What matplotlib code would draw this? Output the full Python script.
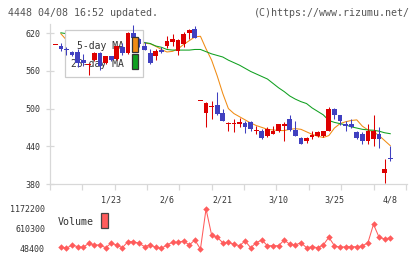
import matplotlib
matplotlib.use("Agg")
from matplotlib import pyplot as plt
from matplotlib.patches import Rectangle
import numpy as np

# daily prices, 1/8 .. 4/8 (61 trading days)
opens = [602, 600, 594.5, 590, 590, 578, 570, 577, 588, 572,
         583, 579, 598, 588, 620, 610, 599, 588, 584, 593,
         599, 606, 592, 603, 620, 627, 513, 493, 504, 505,
         493, 476, 475.5, 475, 477, 478, 464.5, 465, 457, 460,
         464, 472, 483, 466, 453, 448, 455, 457, 457, 465,
         499, 490, 476, 476, 462, 460, 448, 452, 459, 397, 421]
highs = [602, 604, 598, 591, 594, 587, 572, 590, 590, 584,
         584, 599, 604, 622, 633, 613, 606, 594, 594, 598,
         615, 618, 610, 621, 626, 631, 513, 510, 512, 526,
         500, 479, 483, 485, 481, 480, 473, 468, 471, 473,
         475, 479, 490, 480, 455, 455, 465, 464, 465, 502,
         501, 490, 481, 483, 464, 462, 476, 490, 470, 419, 440]
lows = [602, 592, 585, 583, 566, 567, 553, 576, 561, 571,
        576, 578, 585, 587, 600, 598, 593, 571, 577, 588,
        597, 599, 585, 598, 611, 612, 513, 470, 483, 489,
        480, 464, 463, 471, 461, 465, 460, 452, 455, 459,
        463, 448, 465, 456, 443, 445, 452, 455, 454, 465,
        483, 474, 464, 469, 452, 443, 443, 441, 437, 381, 417]
closes = [602, 594, 594, 585, 572, 572, 571, 589, 567, 583,
          578, 599, 589, 620, 612, 603, 593, 573, 591, 590,
          608, 611, 609, 618, 625, 613, 513, 509, 505, 491,
          480, 476.5, 476.5, 479, 471, 467, 465.5, 453, 468, 464,
          475, 476, 466, 457, 443, 453, 458, 462, 465, 499,
          489, 480, 472, 471, 453, 448, 465, 465, 452, 404, 420]

nan = np.nan
ma5 = [nan, 619, 609, 600, 591, 583, 578, 578, 574, 576,
       578, 580, 584, 590, 598, 605, 604, 603, 599, 594,
       590, 591, 595, 602, 608, 614, 615, 595, 577, 552,
       524, 500, 492, 487, 482, 477, 473, 470, 467, 466,
       465, 465, 467, 468, 467, 463, 459, 456, 454, 457,
       469, 476, 479, 481, 482, 472, 466, 463, 457, 449, 441]
ma25 = [nan, 620.5, 619, 618, 617, 615, 614, 613, 612, 611,
        610, 609, 609, 608, 608, 607, 605, 603.5, 599.5, 597.5,
        594, 593, 593, 593, 593, 594, 594, 590.5, 587, 584.5,
        582, 577, 573, 569, 564, 559, 555, 551, 547, 540,
        533, 527, 520, 515, 511, 508, 501, 495.5, 490, 481,
        478, 476, 474, 471, 469, 467, 466, 465.5, 464, 461.5, 460]

volume = [nan, 113000, 68000, 161000, 113000, 96000, 209000, 161000, 161000, 85000,
          209000, 161000, 85000, 253000, 253000, 209000, 113000, 161000, 96000, 68000,
          161000, 237000, 237000, 273000, 161000, 301000, 48400, 1172200, 442000, 377000,
          225000, 237000, 180000, 141000, 273000, 85000, 225000, 301000, 141000, 141000,
          141000, 301000, 180000, 161000, 225000, 85000, 113000, 85000, 161000, 377000,
          141000, 96000, 113000, 113000, 113000, 133000, 225000, 742000, 377000, 329000, 366000]

date_labels = ['1/23', '2/6', '2/21', '3/10', '3/25', '4/8']
date_index = [10, 20, 30, 40, 50, 60]
price_ticks = [620, 560, 500, 440, 380]

RED = '#dd0000'
BLUE = '#4040c0'
ORANGE = '#f08c14'
GREEN = '#10a020'
VOLC = '#ff5c5c'
GRID = '#d8d8d8'
TXT = '#333333'
MONO = 'DejaVu Sans Mono'

W, H = 420, 259


def fx(px):
    return px / W


def fy(py):
    return 1 - py / H


fig = plt.figure(figsize=(4.2, 2.59), dpi=100)
fig.patch.set_facecolor('white')

ax = fig.add_axes([fx(50), fy(184), fx(357), 160 / H])
x = np.arange(len(closes))
o = np.array(opens)
c = np.array(closes)
up = c >= o
colors = np.where(up, RED, BLUE)

# moving averages (under the legend box)
ax.plot(x, ma5, color=ORANGE, lw=0.75, zorder=1)
ax.plot(x, ma25, color=GREEN, lw=0.75, zorder=1)

# candles
ax.vlines(x, lows, highs, colors=colors, lw=0.75, zorder=4)
body_lo = np.minimum(o, c)
body_h = np.maximum(np.abs(c - o), 1.6)
ax.bar(x, body_h, bottom=body_lo - np.where(np.abs(c - o) < 1.6, 0.8, 0), width=0.85,
       color=colors, linewidth=0, zorder=4)

ax.set_xlim(-0.95, 63)
ax.set_ylim(380, 634.5)

for s in ['top', 'right']:
    ax.spines[s].set_visible(False)
for s in ['left', 'bottom']:
    ax.spines[s].set_color(GRID)
    ax.spines[s].set_linewidth(0.9)

ax.set_yticks(price_ticks)
ax.set_yticklabels([str(v) for v in price_ticks], fontsize=6, family=MONO, color=TXT)
ax.tick_params(axis='y', direction='inout', length=6, width=0.9, color=GRID, pad=4)

ax.set_xticks(date_index)
ax.set_xticklabels(date_labels, fontsize=6, family=MONO, color=TXT)
ax.tick_params(axis='x', which='major', length=0, pad=8)
ax.set_xticks(np.arange(12) * 5.795 - 0.95, minor=True)
ax.tick_params(axis='x', which='minor', direction='out', length=4.5, width=0.9, color=GRID)

# legend box
ax.add_patch(Rectangle((fx(65), fy(77)), fx(78), 47 / H, transform=fig.transFigure,
                       facecolor='white', edgecolor='#cccccc', lw=0.9, zorder=2))
ax.text(fx(124), fy(46), '5-day MA', transform=fig.transFigure, ha='right', va='center',
        fontsize=7, family=MONO, color=TXT, zorder=3)
ax.text(fx(124), fy(63.5), '25-day MA', transform=fig.transFigure, ha='right', va='center',
        fontsize=7, family=MONO, color=TXT, zorder=3)
ax.add_patch(Rectangle((fx(132), fy(52)), fx(6), 15 / H, transform=fig.transFigure,
                       facecolor=ORANGE, edgecolor='#333333', lw=0.9, zorder=5))
ax.add_patch(Rectangle((fx(132), fy(69)), fx(6), 15 / H, transform=fig.transFigure,
                       facecolor=GREEN, edgecolor='#333333', lw=0.9, zorder=5))

# volume panel
vax = fig.add_axes([fx(50), fy(252), fx(357), 47 / H])
vol = np.array(volume, dtype=float)
vmin, vmax = np.nanmin(vol), np.nanmax(vol)
k = (vmax - vmin) / 40
vax.plot(x, vol, color=VOLC, lw=0.75, marker='D', markersize=3.3, markeredgewidth=0)
vax.set_xlim(-0.95, 63)
vax.set_ylim(vmin - 3 * k, vmax + 4 * k)
for s in vax.spines.values():
    s.set_visible(False)
vax.set_xticks([])
vticks = [vmin, (vmin + vmax) / 2, vmax]
vax.set_yticks(vticks)
vax.set_yticklabels([str(int(v)) for v in vticks], fontsize=6, family=MONO, color=TXT)
vax.tick_params(axis='y', length=0, pad=3.6)
fig.text(fx(58), fy(222), 'Volume', ha='left', va='center', fontsize=7.2, family=MONO, color=TXT)
fig.patches.append(Rectangle((fx(101), fy(228)), fx(7), 15 / H, transform=fig.transFigure,
                             facecolor=VOLC, edgecolor='#444444', lw=0.9, figure=fig))

fig.text(fx(8), fy(12.5), '4448 04/08 16:52 updated.', ha='left', va='center',
         fontsize=7.2, family=MONO, color='#555555')
fig.text(fx(410), fy(12.5), '(C)https://www.rizumu.net/', ha='right', va='center',
         fontsize=7.2, family=MONO, color='#555555')

fig.savefig('out.png', dpi=100)
